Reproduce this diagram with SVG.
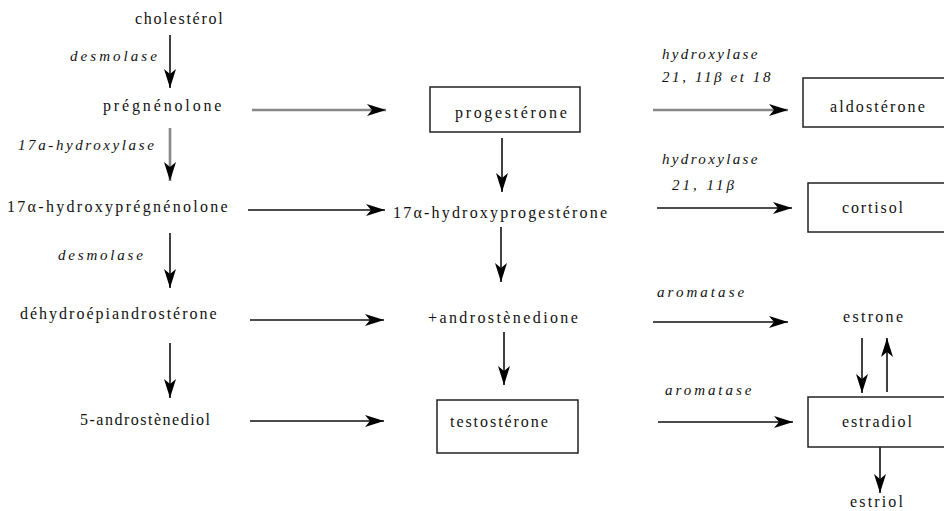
<svg xmlns="http://www.w3.org/2000/svg" width="944" height="511" viewBox="0 0 944 511">
<defs>
<marker id="ah" markerUnits="userSpaceOnUse" markerWidth="22" markerHeight="14" refX="19" refY="6" orient="auto">
<path d="M0,0 L19,6 L0,12 L5,6 z" fill="#000"/>
</marker>
</defs>
<rect width="944" height="511" fill="#fff"/>
<g id="connectors" fill="none" marker-end="url(#ah)">
<g stroke="#111" stroke-width="1.6">
<line x1="170" y1="35" x2="170" y2="88"/>
<line x1="170" y1="233" x2="170" y2="288"/>
<line x1="170" y1="343" x2="170" y2="398"/>
<line x1="248" y1="210" x2="385" y2="210"/>
<line x1="250" y1="320" x2="384" y2="320"/>
<line x1="250" y1="421" x2="384" y2="421"/>
<line x1="502" y1="138" x2="502" y2="192"/>
<line x1="501" y1="227" x2="501" y2="282"/>
<line x1="504" y1="332" x2="504" y2="385"/>
<line x1="657" y1="208" x2="792" y2="208"/>
<line x1="653" y1="322" x2="788" y2="322"/>
<line x1="658" y1="422" x2="793" y2="422"/>
<line x1="862" y1="338" x2="862" y2="393"/>
<line x1="887" y1="392" x2="887" y2="338"/>
<line x1="880" y1="447" x2="880" y2="493"/>
</g>
<g stroke="#888" stroke-width="2.6">
<line x1="170" y1="128" x2="170" y2="181"/>
<line x1="252" y1="110" x2="386" y2="110"/>
<line x1="653" y1="110" x2="788" y2="110"/>
</g>
</g>
<g id="labels" font-family="Liberation Serif" font-style="italic" font-size="15" fill="#111">
<text x="70" y="61" letter-spacing="3.05">desmolase</text>
<text x="18" y="150" letter-spacing="2.6">17a-hydroxylase</text>
<text x="58" y="260" letter-spacing="2.8">desmolase</text>
<text x="662" y="59" letter-spacing="2.35">hydroxylase</text>
<text x="662" y="82" letter-spacing="2.6">21, 11β et 18</text>
<text x="662" y="164" letter-spacing="2.35">hydroxylase</text>
<text x="672" y="190" letter-spacing="3">21, 11β</text>
<text x="657" y="297" letter-spacing="3.05">aromatase</text>
<text x="665" y="395" letter-spacing="2.95">aromatase</text>
</g>
<g id="nodes" font-family="Liberation Serif" font-size="16" fill="#111">
<g id="cholesterol"><text x="135" y="24" letter-spacing="1.75">cholestérol</text></g>
<g id="pregnenolone"><text x="103" y="111" letter-spacing="2.85">prégnénolone</text></g>
<g id="hydroxypregnenolone"><text x="7" y="212" letter-spacing="2.3">17α-hydroxyprégnénolone</text></g>
<g id="dhea"><text x="20" y="319" letter-spacing="2">déhydroépiandrostérone</text></g>
<g id="androstenediol"><text x="80" y="425" letter-spacing="1.5">5-androstènediol</text></g>
<g id="progesterone"><rect x="430" y="87" width="150" height="45" fill="#fff" stroke="#222" stroke-width="1.5"/><text x="455" y="118" letter-spacing="2.65">progestérone</text></g>
<g id="hydroxyprogesterone"><text x="393" y="218" letter-spacing="2.2">17α-hydroxyprogestérone</text></g>
<g id="androstenedione"><text x="428" y="323" letter-spacing="2.4">+androstènedione</text></g>
<g id="testosterone"><rect x="437" y="400" width="141" height="53" fill="#fff" stroke="#222" stroke-width="1.5"/><text x="450" y="427" letter-spacing="1.95">testostérone</text></g>
<g id="aldosterone"><rect x="803" y="78" width="150" height="49" fill="#fff" stroke="#222" stroke-width="1.5"/><text x="830" y="112" letter-spacing="2.1">aldostérone</text></g>
<g id="cortisol"><rect x="808" y="183" width="150" height="49" fill="#fff" stroke="#222" stroke-width="1.5"/><text x="842" y="213" letter-spacing="1.85">cortisol</text></g>
<g id="estrone"><text x="843" y="322" letter-spacing="2.3">estrone</text></g>
<g id="estradiol"><rect x="808" y="397" width="150" height="50" fill="#fff" stroke="#222" stroke-width="1.5"/><text x="842" y="427" letter-spacing="1.85">estradiol</text></g>
<g id="estriol"><text x="850" y="507" letter-spacing="2.15">estriol</text></g>
</g>
</svg>
